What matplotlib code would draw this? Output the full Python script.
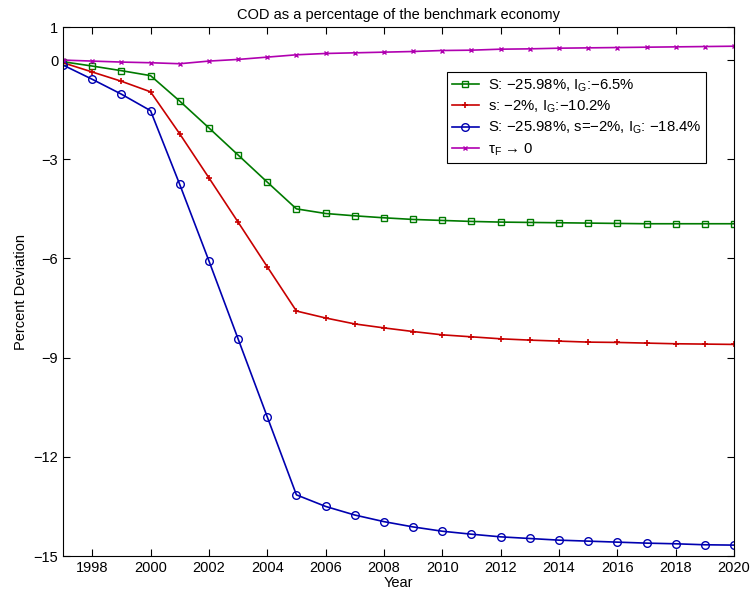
import matplotlib
matplotlib.use('Agg')
import matplotlib.pyplot as plt

plt.rcParams['font.family'] = ['Liberation Sans', 'DejaVu Sans']
plt.rcParams['mathtext.fontset'] = 'custom'
plt.rcParams['mathtext.rm'] = 'Liberation Sans'
plt.rcParams['mathtext.it'] = 'Liberation Sans:italic'

years = list(range(1997, 2021))

cod_S = [-0.05, -0.18, -0.32, -0.47, -1.24, -2.05, -2.87, -3.69, -4.50, -4.64,
         -4.71, -4.77, -4.82, -4.85, -4.88, -4.90, -4.91, -4.92, -4.93, -4.94,
         -4.95, -4.95, -4.95, -4.95]
cod_s = [-0.08, -0.36, -0.64, -0.96, -2.23, -3.56, -4.90, -6.25, -7.59, -7.80,
         -7.98, -8.10, -8.21, -8.31, -8.37, -8.43, -8.47, -8.50, -8.53, -8.54,
         -8.56, -8.58, -8.59, -8.60]
cod_both = [-0.15, -0.58, -1.03, -1.53, -3.76, -6.07, -8.43, -10.79, -13.15, -13.50,
            -13.76, -13.96, -14.12, -14.25, -14.34, -14.42, -14.47, -14.52, -14.55, -14.58,
            -14.61, -14.63, -14.66, -14.67]
cod_tau = [0.0, -0.03, -0.06, -0.08, -0.11, -0.03, 0.02, 0.09, 0.16, 0.20,
           0.22, 0.24, 0.26, 0.29, 0.30, 0.33, 0.34, 0.36, 0.37, 0.38,
           0.39, 0.40, 0.41, 0.42]

labels = [r'S: −25.98%, I$_{\rm G}$:−6.5%',
          r's: −2%, I$_{\rm G}$:−10.2%',
          r'S: −25.98%, s=−2%, I$_{\rm G}$: −18.4%',
          r'τ$_{\rm F}$ → 0']

fig = plt.figure(figsize=(7.52, 5.98), dpi=100)
ax = fig.add_axes([0.0838, 0.0702, 0.8923, 0.8846])

ax.plot(years, cod_S, '-s', color='#007a00', lw=1.2, ms=4.5, mfc='none', mew=1, label=labels[0])
ax.plot(years, cod_s, '-+', color='#c80000', lw=1.2, ms=5, mew=1.2, label=labels[1])
ax.plot(years, cod_both, '-o', color='#0000b0', lw=1.2, ms=5.5, mfc='none', mew=1, label=labels[2])
ax.plot(years, cod_tau, '-x', color='#b000b0', lw=1.2, ms=3.5, mew=1, label=labels[3])

ax.set_xlim(1997, 2020)
ax.set_ylim(-15, 1)
ax.set_xticks(range(1998, 2021, 2))
ax.set_yticks([1, 0, -3, -6, -9, -12, -15])
ax.set_yticklabels(['1', '0', '−3', '−6', '−9', '−12', '−15'])
ax.tick_params(direction='in', top=True, right=True, labelsize=10.5, length=5)

ax.set_title('COD as a percentage of the benchmark economy', fontsize=10.5)
ax.set_xlabel('Year', fontsize=10.5, labelpad=1)
ax.set_ylabel('Percent Deviation', fontsize=10.5)

leg = ax.legend(loc='upper left', bbox_to_anchor=(0.572, 0.915), fontsize=10.7,
                fancybox=False, edgecolor='black', framealpha=1, borderaxespad=0,
                handlelength=1.8, handletextpad=0.6, labelspacing=0.33,
                borderpad=0.35)
leg.get_frame().set_linewidth(0.8)

plt.savefig('out.png', dpi=100)
plt.close(fig)
